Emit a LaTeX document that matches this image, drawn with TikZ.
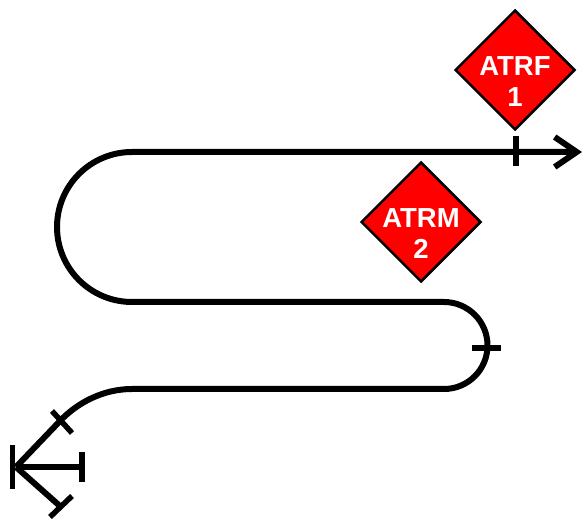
\documentclass[tikz,border=0pt]{standalone}
\usepackage{fontspec}
\setmainfont{Liberation Sans}
\usetikzlibrary{shapes.geometric,arrows.meta,calc}

\begin{document}
\begin{tikzpicture}[x=1pt,y=1pt,
   track/.style={line width=6pt},
   tick/.style={line width=5.5pt},
   sign/.style={diamond,draw=black,line width=2.5pt,fill=red,
     minimum size=120pt,inner sep=0pt},
   signtext/.style={text=white,font=\bfseries\fontsize{27.5}{31}\selectfont,align=center}]
  \useasboundingbox (0,0) rectangle (583,522);
  % signs
  \node[sign] (atrf) at (515,452) {};
  \node[signtext] (atrftxt) at ([yshift=-12pt]atrf.center) {ATRF\\1};
  \node[sign] (atrm) at (421,300) {};
  \node[signtext] (atrmtxt) at ([yshift=-12pt]atrm.center) {ATRM\\2};
  % track points
  \coordinate (stop) at (16,55);
  \coordinate (bend) at (60,101);
  \coordinate (low) at (132,133);
  \coordinate (lowr) at (444,133);
  \coordinate (mid) at (132,220);
  \coordinate (tip) at (582,370);
  \draw[track,-{Straight Barb[length=22pt,width=30pt]}]
    (stop) -- (bend) .. controls (78,120) and (104,133) .. (low) -- (lowr)
    arc[start angle=-90,end angle=90,radius=43.5] -- (mid)
    arc[start angle=270,end angle=90,radius=75] -- (tip);
  % buffer stop
  \draw[tick] (12.5,77) -- (12.5,33);
  \draw[track] (stop) -- (82,55);
  \draw[tick] (82,70) -- (82,40);
  \draw[track] (stop) -- (61,15);
  \draw[tick] (50,5) -- (72,26);
  % ticks
  \draw[tick] (52,111) -- (72,89);
  \draw[tick] (472,174) -- (501,174);
  \draw[tick] (516,386) -- (516,356);
\end{tikzpicture}
\end{document}
